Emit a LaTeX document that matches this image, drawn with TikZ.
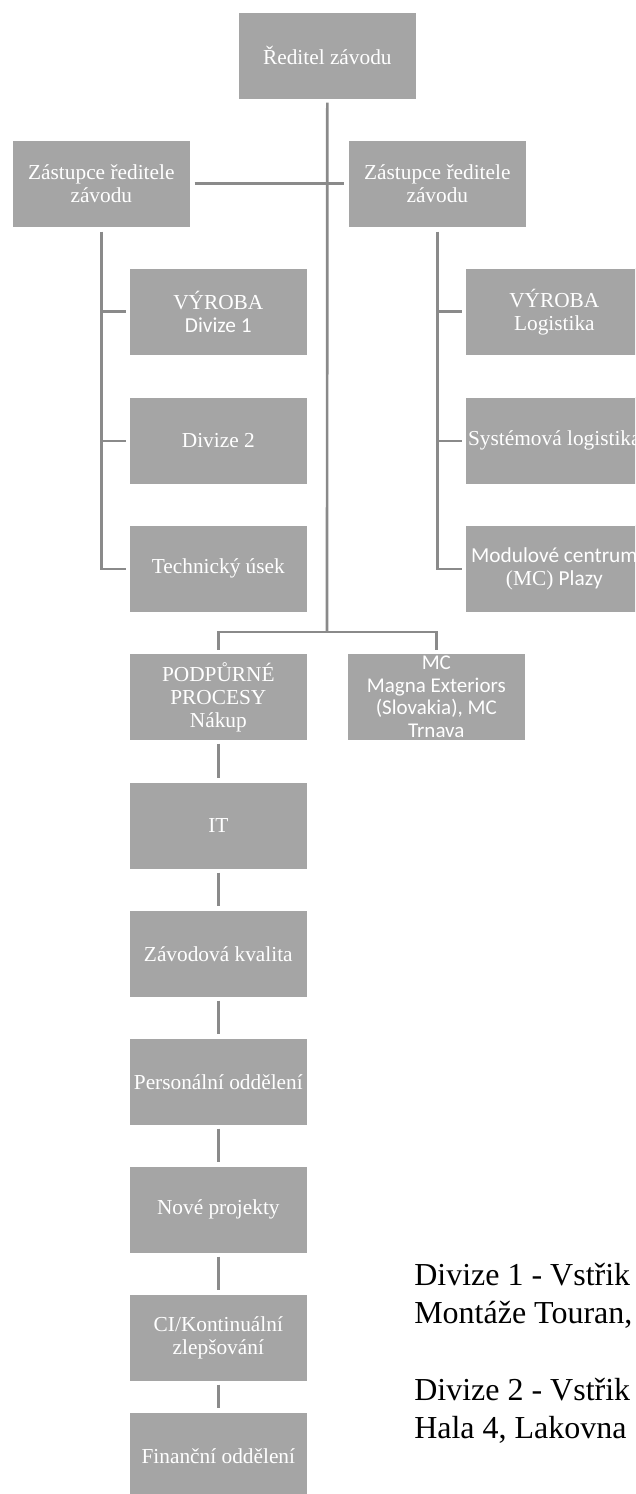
\documentclass[tikz,border=0pt]{standalone}
\usepackage{fontspec}
\setmainfont{Liberation Serif}
\newfontfamily\carlitofont{Carlito}
\definecolor{boxgray}{HTML}{A5A5A5}
\definecolor{linegray}{HTML}{8A8A8A}
\begin{document}
\begin{tikzpicture}[x=0.75pt,y=-0.75pt,
  box/.style={rectangle, fill=boxgray, draw=white, line width=0.5pt,
    minimum width=133.5pt, minimum height=65.25pt, inner sep=0pt,
    anchor=north west, text=white, align=center,
    font=\fontsize{16pt}{17.25pt}\selectfont},
  sansbox/.style={box, font=\carlitofont\fontsize{15.75pt}{17pt}\selectfont},
  conn/.style={draw=linegray, line width=2pt},
  note/.style={anchor=base west, inner sep=0pt,
    font=\fontsize{24pt}{27pt}\selectfont, text=black}]
\useasboundingbox (0,0) rectangle (635,1494);
\clip (0,0) rectangle (635,1494);

% boxes
\node[box] (dir) at (238,12) {Ředitel závodu};
\node[box] (depL) at (12,140) {Zástupce ředitele\\závodu};
\node[box] (depR) at (348,140) {Zástupce ředitele\\závodu};

\node[box] (l1) at (129,268) {VÝROBA\\{\carlitofont Divize 1}};
\node[box] (l2) at (129,397) {Divize 2};
\node[box] (l3) at (129,525) {Technický úsek};

\node[box] (r1) at (465,268) {VÝROBA\\Logistika};
\node[box] (r2) at (465,397) {Systémová logistika};
\node[box] (r3) at (465,525) {{\carlitofont Modulové centrum}\\(MC) {\carlitofont Plazy}};

\node[box] (p1) at (129,653) {PODPŮRNÉ\\PROCESY\\Nákup};
\node[sansbox] (mc) at (347,653) {MC\\Magna Exteriors\\(Slovakia), MC\\Trnava};

\node[box] (p2) at (129,782) {IT};
\node[box] (p3) at (129,910) {Závodová kvalita};
\node[box] (p4) at (129,1038) {Personální oddělení};
\node[box] (p5) at (129,1166) {Nové projekty};
\node[box] (p6) at (129,1294) {CI/Kontinuální\\zlepšování};
\node[box] (p7) at (129,1412) {Finanční oddělení};

% connectors
\coordinate (hub) at (327,632);
\draw[conn, shorten <=2.25pt] (dir.south) -- (hub);
\draw[conn, shorten <=3pt, shorten >=3pt] (depL.east) -- (depR.west);

\draw[conn, shorten <=3pt, shorten >=2.25pt] (depL.south) |- (l3.west);
\draw[conn, shorten >=2.25pt] (depL.south |- l1.west) -- (l1.west);
\draw[conn, shorten >=2.25pt] (depL.south |- l2.west) -- (l2.west);

\draw[conn, shorten <=3pt, shorten >=2.25pt] (depR.south) |- (r3.west);
\draw[conn, shorten >=2.25pt] (depR.south |- r1.west) -- (r1.west);
\draw[conn, shorten >=2.25pt] (depR.south |- r2.west) -- (r2.west);

\draw[conn, shorten >=2.25pt] (hub) -| (p1.north);
\draw[conn, shorten >=2.25pt] (hub) -| (mc.north);

\draw[conn, shorten <=2.25pt, shorten >=3pt] (p1.south) -- (p2.north);
\draw[conn, shorten <=2.25pt, shorten >=3pt] (p2.south) -- (p3.north);
\draw[conn, shorten <=2.25pt, shorten >=3pt] (p3.south) -- (p4.north);
\draw[conn, shorten <=2.25pt, shorten >=3pt] (p4.south) -- (p5.north);
\draw[conn, shorten <=2.25pt, shorten >=3pt] (p5.south) -- (p6.north);
\draw[conn, shorten <=2.25pt, shorten >=3pt] (p6.south) -- (p7.north);

% notes
\node[note] (n1) at (414,1285) {Divize 1 - Vstřik};
\node[note] (n2) at (414,1323) {Montáže Touran,};
\node[note] (n3) at (414,1400) {Divize 2 - Vstřik};
\node[note] (n4) at (414,1438) {Hala 4, Lakovna};
\end{tikzpicture}
\end{document}
